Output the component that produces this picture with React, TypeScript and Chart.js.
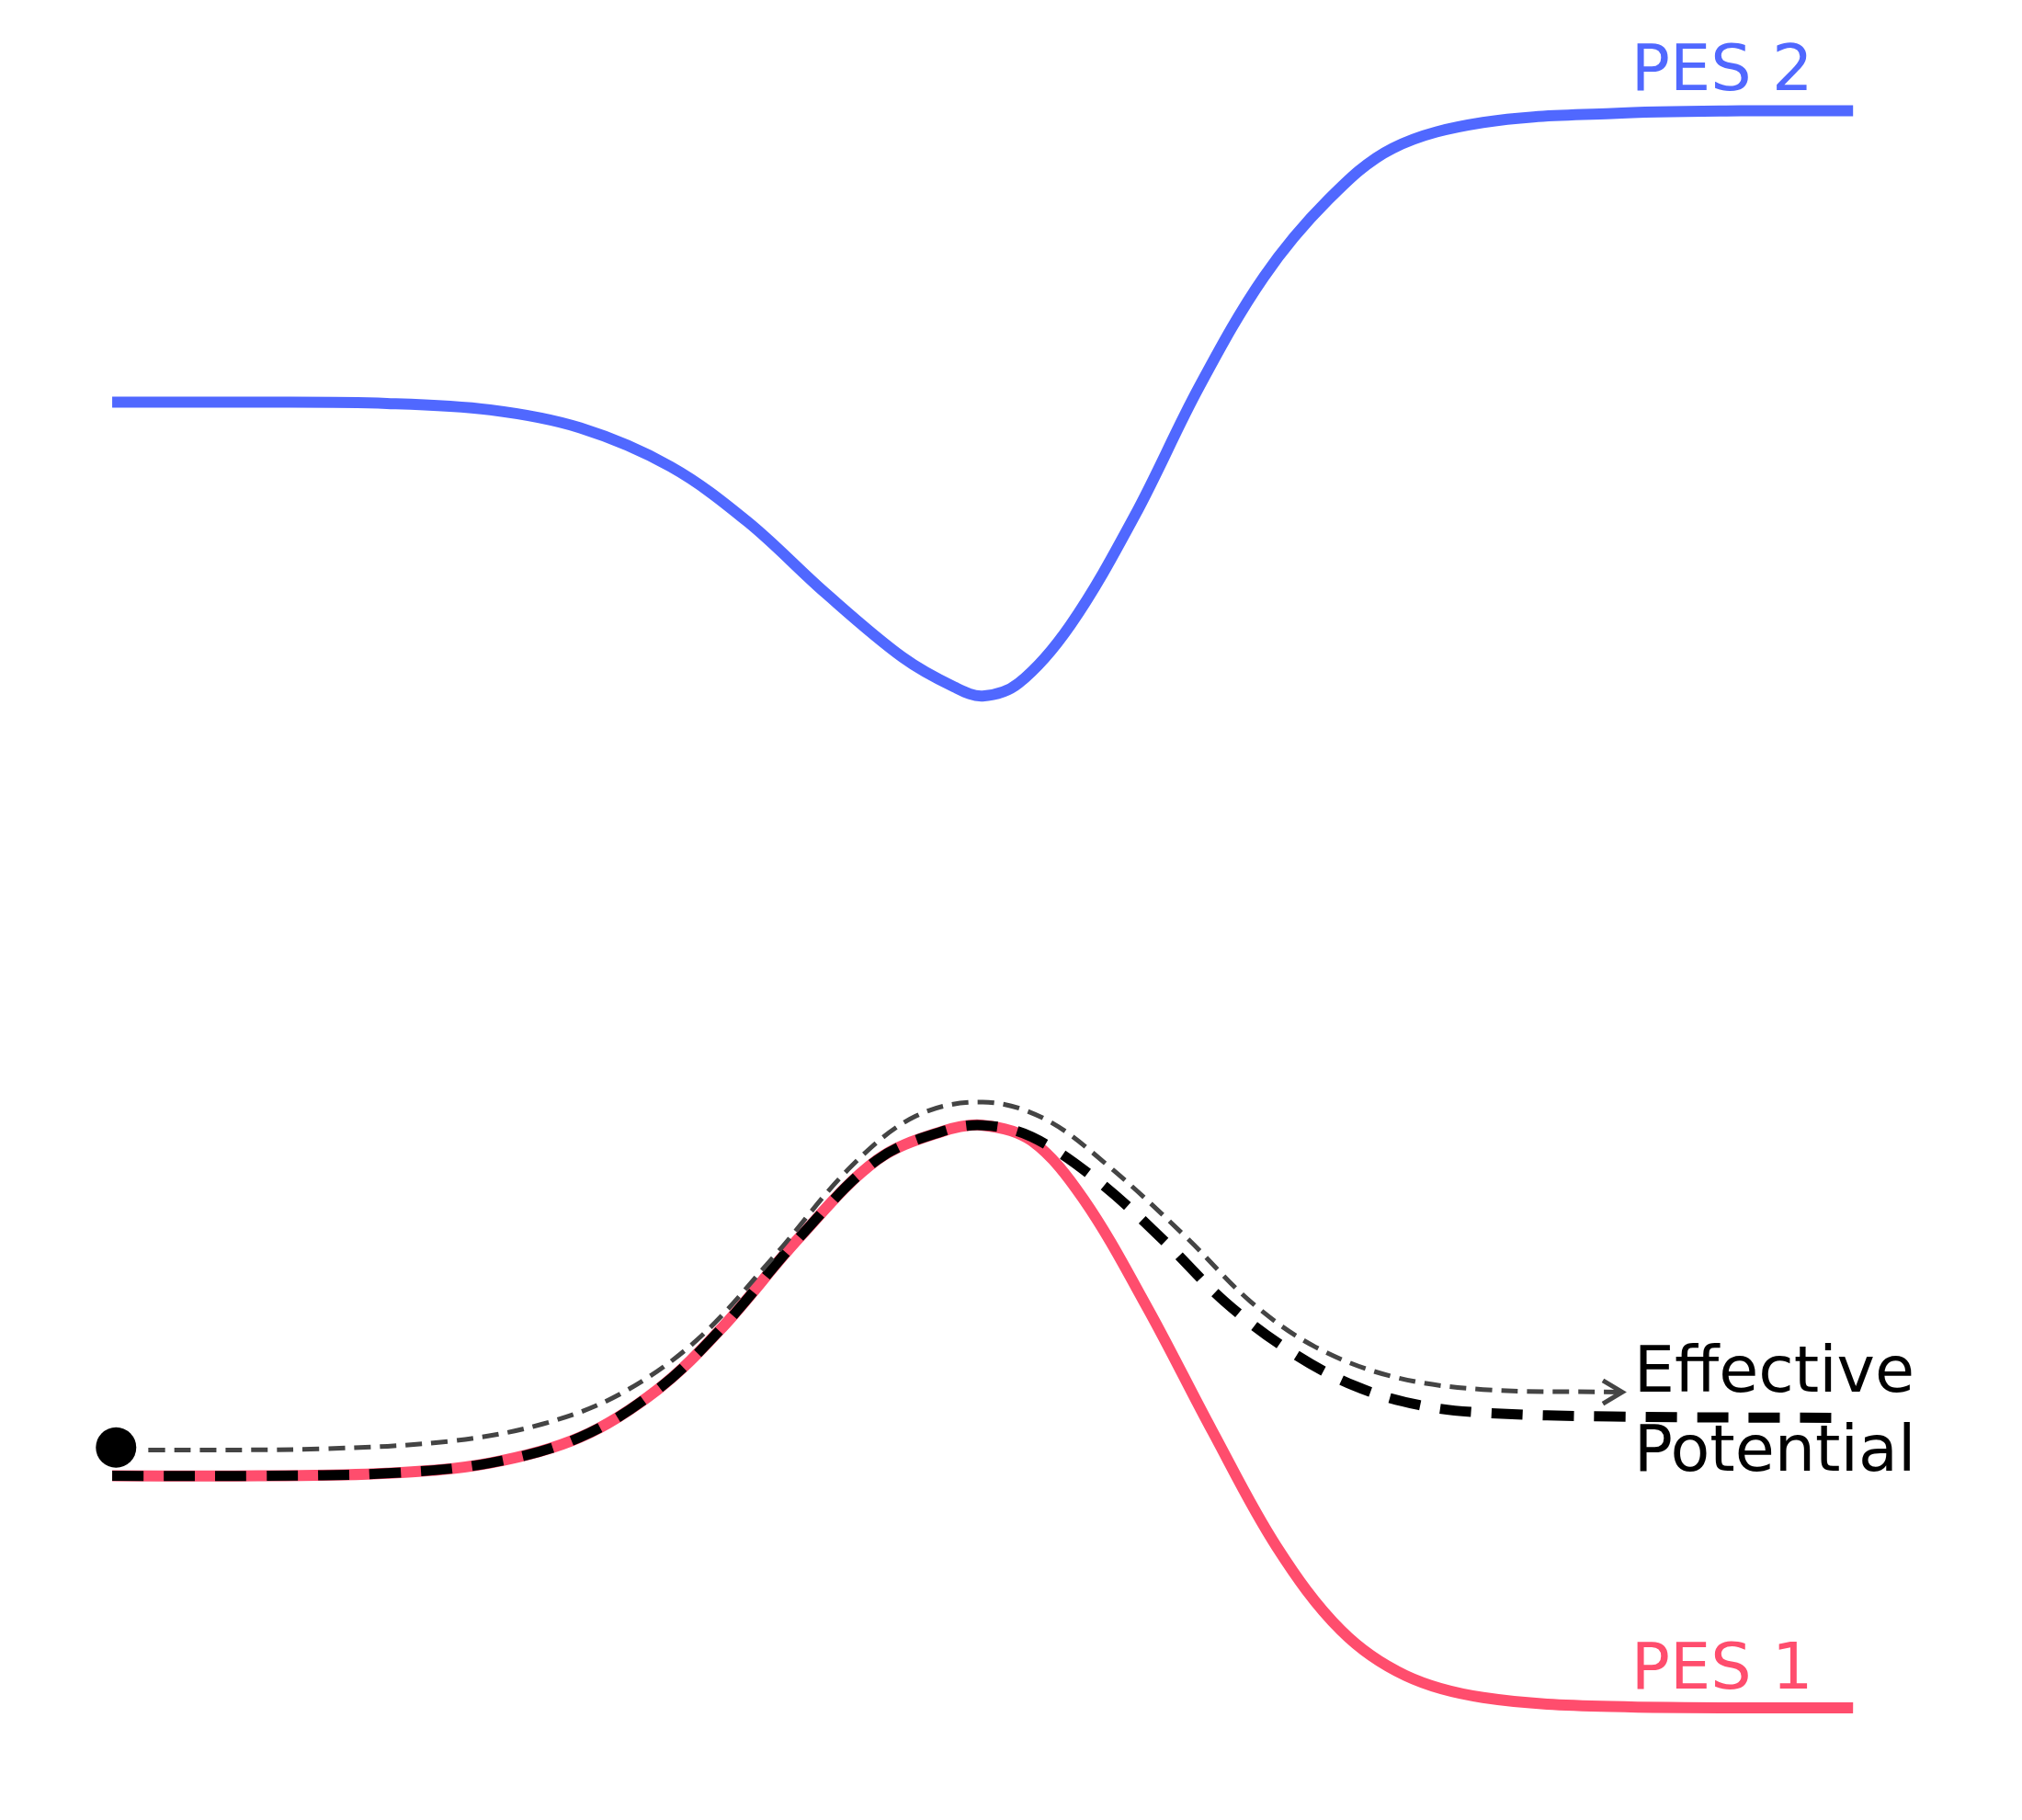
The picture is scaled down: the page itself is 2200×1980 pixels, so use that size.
import React, { useEffect, useRef } from 'react';
import { Chart, registerables } from 'chart.js';

Chart.register(...registerables);

// coordinates (x to the right, y downward)
const pes2X = [87, 200, 300, 380, 450, 520, 580, 640, 700, 740, 762, 790, 830, 880, 930, 980, 1030, 1080, 1150, 1250, 1350, 1437];
const pes2Y = [312, 312, 313, 318, 332, 362, 405, 460, 510, 533, 540, 530, 485, 400, 300, 215, 155, 115, 95, 88, 86, 86];

const pes1X = [87, 200, 300, 380, 450, 510, 560, 620, 680, 730, 762, 800, 840, 890, 940, 990, 1040, 1090, 1150, 1250, 1437];
const pes1Y = [1145, 1145, 1143, 1135, 1115, 1078, 1030, 960, 900, 878, 873, 885, 930, 1015, 1110, 1200, 1265, 1300, 1317, 1324, 1325];

const effX = [87, 200, 300, 380, 450, 510, 560, 620, 680, 730, 762, 800, 850, 900, 950, 1000, 1050, 1100, 1150, 1250, 1430];
const effY = [1145, 1145, 1143, 1135, 1115, 1078, 1030, 960, 900, 878, 873, 882, 915, 960, 1010, 1048, 1075, 1090, 1096, 1099, 1100];

const pathX = [115, 250, 350, 420, 480, 540, 600, 660, 710, 762, 810, 860, 920, 970, 1020, 1080, 1150, 1258];
const pathY = [1125, 1124, 1118, 1105, 1082, 1040, 975, 905, 866, 855, 868, 905, 960, 1010, 1045, 1068, 1078, 1080];

const arrowX = [1243, 1258, 1243];
const arrowY = [1071, 1080, 1089];

const labels = [
  { text: 'PES 2', x: 1265, y: 57, color: '#5068ff' },
  { text: 'PES 1', x: 1265, y: 1297, color: '#ff4d6d' },
  { text: 'Effective', x: 1267, y: 1067, color: '#000000' },
  { text: 'Potential', x: 1267, y: 1128, color: '#000000' },
];

const pts = (xs: number[], ys: number[]) => xs.map((x, i) => ({ x, y: ys[i] }));

const labelPlugin = {
  id: 'labels',
  afterDatasetsDraw(chart: any) {
    const { ctx, scales } = chart;
    ctx.save();
    ctx.font = '70px "DejaVu Sans"';
    ctx.textBaseline = 'middle';
    ctx.textAlign = 'left';
    labels.forEach((l) => {
      ctx.fillStyle = l.color;
      ctx.fillText(l.text, scales.x.getPixelForValue(l.x), scales.y.getPixelForValue(l.y));
    });
    ctx.restore();
  },
};

const App: React.FC = () => {
  const canvasRef = useRef<HTMLCanvasElement | null>(null);
  const chartRef = useRef<Chart | null>(null);

  useEffect(() => {
    document.body.style.margin = '0';
    if (!canvasRef.current) return;
    chartRef.current?.destroy();
    const line = { showLine: true, pointRadius: 0, tension: 0.35, borderCapStyle: 'butt' as const };
    chartRef.current = new Chart(canvasRef.current, {
      type: 'scatter',
      data: {
        datasets: [
          { ...line, data: pts(pes2X, pes2Y), borderColor: '#5068ff', borderWidth: 12, order: 5 },
          { ...line, data: pts(pes1X, pes1Y), borderColor: '#ff4d6d', borderWidth: 12, order: 4 },
          { ...line, data: pts(effX, effY), borderColor: '#000000', borderWidth: 11, borderDash: [34, 22], order: 3 },
          { ...line, data: pts(pathX, pathY), borderColor: '#444444', borderWidth: 5, borderDash: [18, 10], order: 2 },
          { showLine: true, pointRadius: 0, data: pts(arrowX, arrowY), borderColor: '#444444', borderWidth: 5, order: 1 },
          { data: [{ x: 90, y: 1123 }], pointRadius: 22, backgroundColor: '#000000', borderWidth: 0, order: 0 },
        ],
      },
      options: {
        animation: false,
        responsive: false,
        layout: { padding: 0, autoPadding: false },
        plugins: { legend: { display: false }, tooltip: { enabled: false } },
        scales: {
          x: { type: 'linear', min: 0, max: 1568, display: false },
          y: { type: 'linear', min: 0, max: 1412, reverse: true, display: false },
        },
      },
      plugins: [labelPlugin],
    });
    return () => {
      chartRef.current?.destroy();
      chartRef.current = null;
    };
  }, []);

  return <canvas ref={canvasRef} width={2200} height={1980} style={{ width: 2200, height: 1980, display: 'block' }} />;
};

export default App;
